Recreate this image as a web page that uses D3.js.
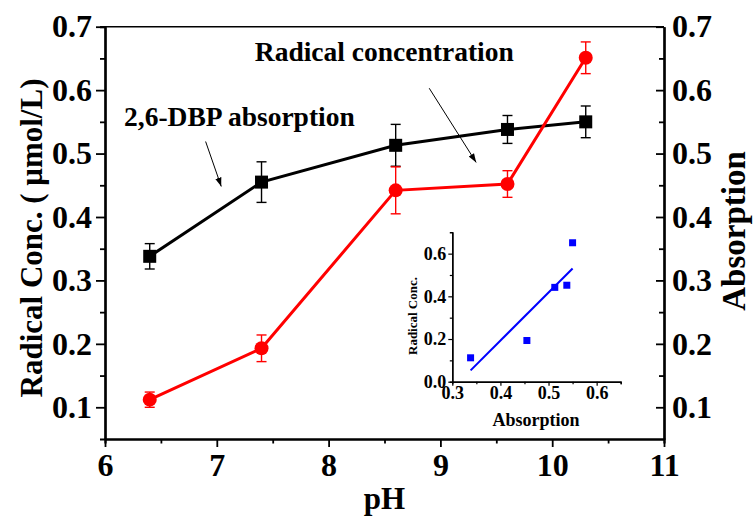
<!DOCTYPE html>
<html>
<head>
<meta charset="utf-8">
<script src="https://cdn.jsdelivr.net/npm/d3@7"></script>
<style>
  body { margin: 0; background: #fff; }
  svg text { font-family: "Liberation Serif", "Times New Roman", serif; font-weight: bold; }
</style>
</head>
<body>
<svg id="chart" width="753" height="516"></svg>
<script>
// Data
const pH = [6.4, 7.4, 8.6, 9.6, 10.3];
const absorption = [0.338, 0.455, 0.513, 0.538, 0.55];
const absorptionErr = [0.02, 0.032, 0.033, 0.022, 0.025];
const radical = [0.112, 0.193, 0.442, 0.452, 0.651];
const radicalErr = [0.012, 0.021, 0.037, 0.021, 0.025];

const xTicks = [6, 7, 8, 9, 10, 11];
const xMinor = [6.5, 7.5, 8.5, 9.5, 10.5];
const yTicks = [0.1, 0.2, 0.3, 0.4, 0.5, 0.6, 0.7];
const yMinor = [0.15, 0.25, 0.35, 0.45, 0.55, 0.65];
const insetXTicks = [0.3, 0.4, 0.5, 0.6];
const insetXMinor = [0.35, 0.45, 0.55, 0.65];
const insetYTicks = [0, 0.2, 0.4, 0.6];
const insetYMinor = [0.1, 0.3, 0.5];

const svg = d3.select("#chart");
const plot = { left: 105, right: 664, top: 26.7, bottom: 439 };

const x = d3.scaleLinear().domain([6, 11]).range([plot.left, plot.right]);
const y = d3.scaleLinear().domain([0.05, 0.7]).range([plot.bottom, plot.top]);

const fmt = d3.format(".1f");

// frame top line
svg.append("line")
  .attr("x1", plot.left).attr("x2", plot.right)
  .attr("y1", plot.top).attr("y2", plot.top)
  .attr("stroke", "#000").attr("stroke-width", 1.6);

// axes helper
function styleAxis(g, size) {
  g.select(".domain").attr("stroke-width", 2.2);
  g.selectAll(".tick line").attr("stroke-width", 1.8);
  g.selectAll("text").attr("font-size", size).attr("fill", "#000")
    .attr("font-family", "Liberation Serif").attr("font-weight", "bold");
}

// bottom axis
svg.append("g").attr("transform", `translate(0,${plot.bottom})`)
  .call(d3.axisBottom(x).tickValues(xMinor).tickSize(4.5).tickFormat(""))
  .call((g) => styleAxis(g, 0));
svg.append("g").attr("transform", `translate(0,${plot.bottom})`)
  .call(d3.axisBottom(x).tickValues(xTicks).tickSizeInner(8).tickSizeOuter(0).tickPadding(6).tickFormat(d3.format("d")))
  .call((g) => styleAxis(g, 32));

// left axis
svg.append("g").attr("transform", `translate(${plot.left},0)`)
  .call(d3.axisLeft(y).tickValues(yMinor).tickSize(5).tickFormat(""))
  .call((g) => styleAxis(g, 0));
svg.append("g").attr("transform", `translate(${plot.left},0)`)
  .call(d3.axisLeft(y).tickValues(yTicks).tickSizeInner(9).tickSizeOuter(0).tickPadding(4).tickFormat(fmt))
  .call((g) => styleAxis(g, 32));

// right axis (ticks point inward)
svg.append("g").attr("transform", `translate(${plot.right},0)`)
  .call(d3.axisRight(y).tickValues(yMinor).tickSizeInner(-5).tickSizeOuter(0).tickFormat(""))
  .call((g) => styleAxis(g, 0));
svg.append("g").attr("transform", `translate(${plot.right},0)`)
  .call(d3.axisRight(y).tickValues(yTicks).tickSizeInner(-8).tickSizeOuter(0).tickPadding(8).tickFormat(fmt))
  .call((g) => styleAxis(g, 32));

// axis titles
svg.append("text")
  .attr("transform", `translate(42,238) rotate(-90)`)
  .attr("text-anchor", "middle").attr("font-size", 31)
  .text("Radical Conc. ( μmol/L)");
svg.append("text")
  .attr("transform", `translate(745,231) rotate(-90)`)
  .attr("text-anchor", "middle").attr("font-size", 33)
  .text("Absorption");
svg.append("text")
  .attr("x", (plot.left + plot.right) / 2).attr("y", 509)
  .attr("text-anchor", "middle").attr("font-size", 31)
  .text("pH");

// series
const idx = d3.range(pH.length);
function drawSeries(vals, errs, color, shape) {
  const g = svg.append("g");
  g.append("path")
    .datum(idx)
    .attr("fill", "none").attr("stroke", color).attr("stroke-width", 3)
    .attr("d", d3.line().x((i) => x(pH[i])).y((i) => y(vals[i])));
  const eb = g.selectAll(".eb").data(idx).join("g").attr("stroke", color).attr("stroke-width", 1.4);
  eb.append("line")
    .attr("x1", (i) => x(pH[i])).attr("x2", (i) => x(pH[i]))
    .attr("y1", (i) => y(vals[i] - errs[i])).attr("y2", (i) => y(vals[i] + errs[i]));
  [1, -1].forEach((s) => {
    eb.append("line")
      .attr("x1", (i) => x(pH[i]) - 5).attr("x2", (i) => x(pH[i]) + 5)
      .attr("y1", (i) => y(vals[i] + s * errs[i])).attr("y2", (i) => y(vals[i] + s * errs[i]));
  });
  if (shape === "square") {
    g.selectAll(".m").data(idx).join("rect")
      .attr("x", (i) => x(pH[i]) - 6.5).attr("y", (i) => y(vals[i]) - 6.5)
      .attr("width", 13).attr("height", 13).attr("fill", color);
  } else {
    g.selectAll(".m").data(idx).join("circle")
      .attr("cx", (i) => x(pH[i])).attr("cy", (i) => y(vals[i]))
      .attr("r", 7).attr("fill", color);
  }
}
drawSeries(absorption, absorptionErr, "#000", "square");
drawSeries(radical, radicalErr, "#ff0000", "circle");

// annotations
svg.append("defs").append("marker")
  .attr("id", "arrow").attr("viewBox", "0 0 10 10")
  .attr("refX", 10).attr("refY", 5)
  .attr("markerWidth", 9).attr("markerHeight", 9)
  .attr("markerUnits", "userSpaceOnUse")
  .attr("orient", "auto")
  .append("path").attr("d", "M0,1.5 L10,5 L0,8.5 Z").attr("fill", "#000");

svg.append("text").attr("x", x(7.34)).attr("y", y(0.646))
  .attr("font-size", 27.5).text("Radical concentration");
svg.append("text").attr("x", x(6.17)).attr("y", y(0.543))
  .attr("font-size", 27.5).text("2,6-DBP absorption");

svg.append("line")
  .attr("x1", x(6.9)).attr("y1", y(0.519)).attr("x2", x(7.04)).attr("y2", y(0.448))
  .attr("stroke", "#000").attr("stroke-width", 1).attr("marker-end", "url(#arrow)");
svg.append("line")
  .attr("x1", x(8.9)).attr("y1", y(0.603)).attr("x2", x(9.32)).attr("y2", y(0.486))
  .attr("stroke", "#000").attr("stroke-width", 1).attr("marker-end", "url(#arrow)");

// inset: radical conc. vs absorption
const ix = d3.scaleLinear().domain([0.3, 0.65]).range([452.3, 620.7]);
const iy = d3.scaleLinear().domain([0, 0.7]).range([381.7, 232.3]);
const inset = svg.append("g");

function styleInset(g, size) {
  g.select(".domain").attr("stroke-width", 1.4);
  g.selectAll(".tick line").attr("stroke-width", 1.2);
  g.selectAll("text").attr("font-size", size).attr("fill", "#000")
    .attr("font-family", "Liberation Serif").attr("font-weight", "bold");
}
inset.append("g").attr("transform", `translate(0,${iy(0)})`)
  .call(d3.axisBottom(ix).tickValues(insetXMinor).tickSize(2.5).tickFormat(""))
  .call((g) => styleInset(g, 0));
inset.append("g").attr("transform", `translate(0,${iy(0)})`)
  .call(d3.axisBottom(ix).tickValues(insetXTicks).tickSizeInner(4).tickSizeOuter(0).tickPadding(1).tickFormat(fmt))
  .call((g) => styleInset(g, 18));
inset.append("g").attr("transform", `translate(${ix(0.3)},0)`)
  .call(d3.axisLeft(iy).tickValues(insetYMinor).tickSize(2.5).tickFormat(""))
  .call((g) => styleInset(g, 0));
inset.append("g").attr("transform", `translate(${ix(0.3)},0)`)
  .call(d3.axisLeft(iy).tickValues(insetYTicks).tickSizeInner(4).tickSizeOuter(0).tickPadding(2).tickFormat(fmt))
  .call((g) => styleInset(g, 18));

inset.append("text")
  .attr("transform", `translate(417,316) rotate(-90)`)
  .attr("text-anchor", "middle").attr("font-size", 13)
  .text("Radical Conc.");
inset.append("text")
  .attr("x", 536).attr("y", 426)
  .attr("text-anchor", "middle").attr("font-size", 18)
  .text("Absorption");

// least-squares fit line of radical vs absorption
const mx = d3.mean(absorption), my = d3.mean(radical);
const slope = d3.sum(idx, (i) => (absorption[i] - mx) * (radical[i] - my)) /
  d3.sum(idx, (i) => (absorption[i] - mx) ** 2);
const fit = (v) => my + slope * (v - mx);
const [xa, xb] = d3.extent(absorption);
inset.append("line")
  .attr("x1", ix(xa)).attr("y1", iy(fit(xa)))
  .attr("x2", ix(xb)).attr("y2", iy(fit(xb)))
  .attr("stroke", "#0000ff").attr("stroke-width", 2);

inset.selectAll(".pt").data(idx).join("rect")
  .attr("x", (i) => ix(absorption[i]) - 3.5).attr("y", (i) => iy(radical[i]) - 3.5)
  .attr("width", 7).attr("height", 7).attr("fill", "#0000ff");
</script>
</body>
</html>
